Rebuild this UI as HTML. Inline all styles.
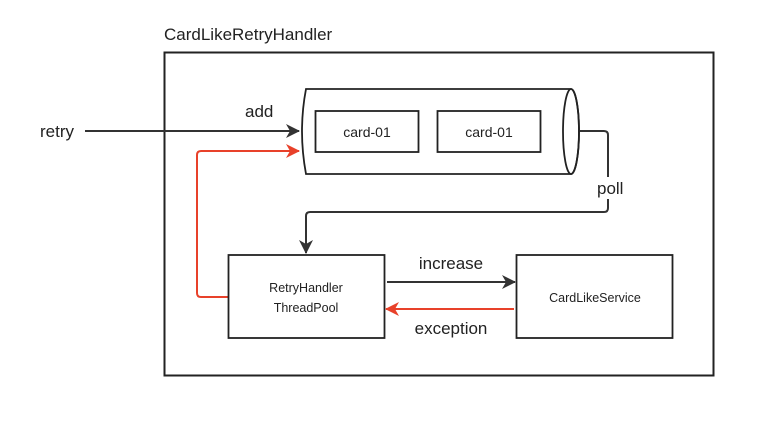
<!DOCTYPE html>
<html><head><style>
body{margin:0;background:#fff;}
text{font-family:"Liberation Sans",sans-serif;fill:#222;}
</style></head><body>
<svg width="776" height="421" viewBox="0 0 776 421" xmlns="http://www.w3.org/2000/svg">
<defs>
<marker id="ab" markerWidth="14" markerHeight="14" refX="13" refY="7" orient="auto" markerUnits="userSpaceOnUse"><path d="M0,0 L14,7 L0,14 L4,7 Z" fill="#333"/></marker>
<marker id="ar" markerWidth="14" markerHeight="14" refX="13" refY="7" orient="auto" markerUnits="userSpaceOnUse"><path d="M0,0 L14,7 L0,14 L4,7 Z" fill="#e8412a"/></marker>
</defs>
<text x="164" y="40" font-size="17">CardLikeRetryHandler</text>
<rect x="164.5" y="52.5" width="549" height="323" fill="none" stroke="#222" stroke-width="2"/>
<path d="M306,89 L571,89 A8,42.5 0 0 1 571,174 L306,174 Q298,131 306,89 Z" fill="#fff" stroke="#222" stroke-width="1.8"/>
<ellipse cx="571" cy="131.5" rx="8" ry="42.5" fill="none" stroke="#222" stroke-width="1.8"/>
<rect x="315.5" y="111" width="103" height="41" fill="none" stroke="#222" stroke-width="1.8"/>
<rect x="437.5" y="111" width="103" height="41" fill="none" stroke="#222" stroke-width="1.8"/>
<text x="367" y="137" font-size="14" text-anchor="middle">card-01</text>
<text x="489" y="137" font-size="14" text-anchor="middle">card-01</text>
<text x="40" y="137" font-size="17">retry</text>
<line x1="85" y1="131" x2="299" y2="131" stroke="#333" stroke-width="2" marker-end="url(#ab)"/>
<text x="245" y="117" font-size="17">add</text>
<path d="M580,131 L604,131 Q608,131 608,135 L608,208 Q608,212 604,212 L310,212 Q306,212 306,216 L306,253" fill="none" stroke="#333" stroke-width="2" marker-end="url(#ab)"/>
<rect x="596" y="177" width="36" height="22" fill="#fff"/>
<text x="597" y="194" font-size="17">poll</text>
<path d="M228,297 L201,297 Q197,297 197,293 L197,155 Q197,151 201,151 L299,151" fill="none" stroke="#e8412a" stroke-width="2" marker-end="url(#ar)"/>
<rect x="228.5" y="255" width="156" height="83" fill="#fff" stroke="#222" stroke-width="1.8"/>
<text x="306" y="292" font-size="12.5" text-anchor="middle">RetryHandler</text>
<text x="306" y="312" font-size="12.5" text-anchor="middle">ThreadPool</text>
<rect x="516.5" y="255" width="156" height="83" fill="#fff" stroke="#222" stroke-width="1.8"/>
<text x="595" y="302" font-size="12.5" text-anchor="middle">CardLikeService</text>
<line x1="387" y1="282" x2="515" y2="282" stroke="#333" stroke-width="2" marker-end="url(#ab)"/>
<text x="451" y="269" font-size="17" text-anchor="middle">increase</text>
<line x1="514" y1="309" x2="386" y2="309" stroke="#e8412a" stroke-width="2" marker-end="url(#ar)"/>
<text x="451" y="334" font-size="17" text-anchor="middle">exception</text>
</svg>
</body></html>
